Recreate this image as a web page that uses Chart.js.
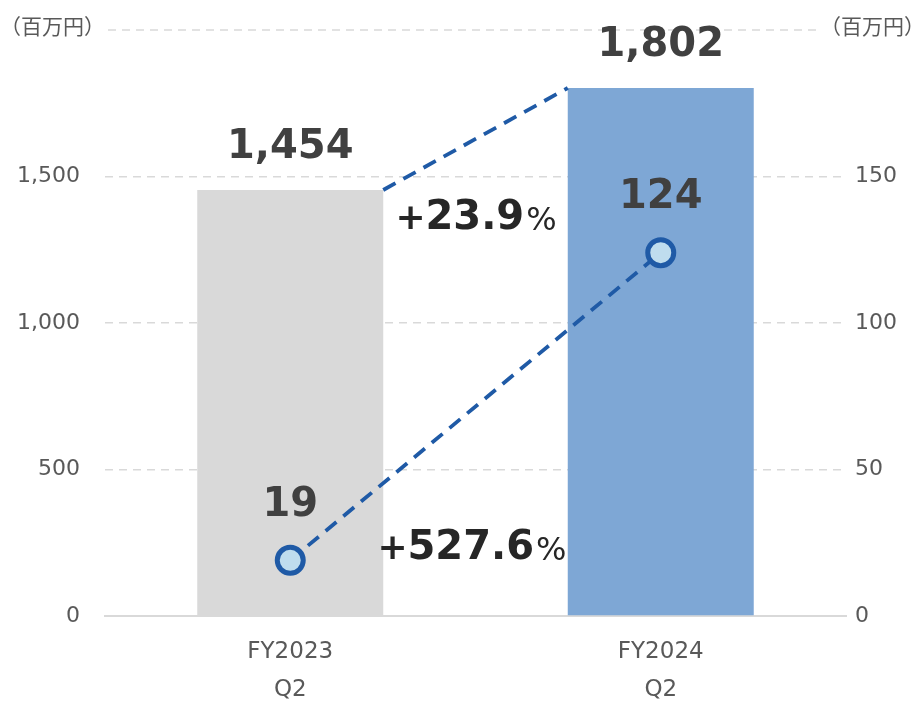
<!DOCTYPE html>
<html>
<head>
<meta charset="utf-8">
<script src="https://cdn.jsdelivr.net/npm/chart.js@4"></script>
<style>
html,body{margin:0;padding:0;background:#fff;}
#wrap{width:918px;height:704px;position:relative;}
</style>
</head>
<body>
<div id="wrap"><canvas id="c" width="918" height="704"></canvas></div>
<script>
const categories = [["FY2023", "Q2"], ["FY2024", "Q2"]];
const salesValues = [1454, 1802];          // left axis, 百万円
const profitValues = [19, 124];            // right axis, 百万円
const salesLabels = ["1,454", "1,802"];
const profitLabels = ["19", "124"];
const growthSales = "23.9";
const growthProfit = "527.6";
const unitLabel = "（百万円）";
const leftTicks = [0, 500, 1000, 1500, 2000];
const rightTicks = [0, 50, 100, 150, 200];

const TICK_FONT = {family: "'DejaVu Sans', Verdana, sans-serif", size: 22};
const GRID = '#D9D9D9';

const overlay = {
  id: 'overlay',
  beforeDatasetsDraw(chart) {
    const ctx = chart.ctx, y = chart.scales.y, area = chart.chartArea;
    ctx.save();
    ctx.strokeStyle = GRID; ctx.lineWidth = 1.5; ctx.setLineDash([8, 6]);
    const yt = y.getPixelForValue(2000);
    ctx.beginPath(); ctx.moveTo(area.left + 3, yt); ctx.lineTo(area.right - 30, yt); ctx.stroke();
    ctx.restore();
  },
  afterDatasetsDraw(chart) {
    const ctx = chart.ctx;
    const bars = chart.getDatasetMeta(0).data;
    const pts = chart.getDatasetMeta(1).data;
    ctx.save();
    ctx.strokeStyle = '#1F5AA6'; ctx.lineWidth = 3.8; ctx.setLineDash([14, 9]);
    ctx.beginPath();
    ctx.moveTo(bars[0].x + bars[0].width / 2, bars[0].y);
    ctx.lineTo(bars[1].x - bars[1].width / 2, bars[1].y);
    ctx.stroke();
    ctx.setLineDash([]);
    ctx.fillStyle = '#404040';
    ctx.textAlign = 'center'; ctx.textBaseline = 'middle';
    ctx.font = "bold 40px 'DejaVu Sans', Verdana, sans-serif";
    bars.forEach((b, i) => ctx.fillText(salesLabels[i], b.x, b.y - 42));
    pts.forEach((p, i) => ctx.fillText(profitLabels[i], p.x, p.y - 55));
    const drawGrowth = (txt, xLeft, yMid) => {
      ctx.textAlign = 'left'; ctx.fillStyle = '#262626';
      let x = xLeft;
      ctx.font = "bold 36px 'DejaVu Sans', Verdana, sans-serif";
      ctx.fillText('+', x - 4, yMid + 1); x += 26;
      ctx.font = "bold 40px 'DejaVu Sans', Verdana, sans-serif";
      ctx.fillText(txt, x, yMid); x += ctx.measureText(txt).width + 2;
      ctx.font = "32px 'DejaVu Sans', Verdana, sans-serif";
      ctx.fillText('%', x, yMid + 3);
    };
    const midX = (bars[0].x + bars[1].x) / 2;
    drawGrowth(growthSales, midX - 76, 219);
    drawGrowth(growthProfit, midX - 94, 549);
    ctx.fillStyle = '#595959';
    ctx.font = "21px 'Noto Sans CJK JP', sans-serif";
    const yt = chart.scales.y.getPixelForValue(2000);
    ctx.textAlign = 'left'; ctx.fillText(unitLabel, 0, yt - 4);
    ctx.textAlign = 'right'; ctx.fillText(unitLabel, 925, yt - 4);
    ctx.restore();
  }
};

new Chart(document.getElementById('c'), {
  data: {
    labels: categories,
    datasets: [
      {
        type: 'bar', data: salesValues, yAxisID: 'y', order: 2,
        backgroundColor: ['#D9D9D9', '#7EA7D5'],
        barPercentage: 1, categoryPercentage: 0.502
      },
      {
        type: 'line', data: profitValues, yAxisID: 'y1', order: 1,
        borderColor: '#1F5AA6', borderWidth: 3.8, borderDash: [14, 9],
        pointRadius: 13, pointBorderWidth: 5,
        pointBackgroundColor: '#BFDDEE', pointBorderColor: '#1F5AA6',
        fill: false, tension: 0
      }
    ]
  },
  options: {
    responsive: false, animation: false,
    layout: {padding: {top: 30, left: 0, right: 0, bottom: 0}},
    plugins: {legend: {display: false}, tooltip: {enabled: false}},
    scales: {
      x: {
        grid: {display: false, drawTicks: false},
        border: {display: true, color: GRID, width: 2},
        ticks: {font: Object.assign({lineHeight: 1.65}, TICK_FONT, {size: 23}), color: '#595959', padding: 17, maxRotation: 0},
        afterFit(s) { s.height = 88; }
      },
      y: {
        position: 'left', min: 0, max: 2000,
        afterBuildTicks(s) { s.ticks = leftTicks.map(v => ({value: v})); },
        grid: {
          drawTicks: false, lineWidth: 1.5,
          color: c => (c.tick && c.tick.value === 2000) ? 'rgba(0,0,0,0)' : GRID
        },
        border: {display: false, dash: [8, 6]},
        ticks: {
          font: TICK_FONT, color: '#595959', padding: 25,
          callback: v => v === 2000 ? '' : v.toLocaleString('en-US')
        },
        afterFit(s) { s.width = 105; s.paddingTop = 0; s.paddingBottom = 0; }
      },
      y1: {
        position: 'right', min: 0, max: 200,
        afterBuildTicks(s) { s.ticks = rightTicks.map(v => ({value: v})); },
        grid: {display: false, drawTicks: false},
        border: {display: false},
        ticks: {
          font: TICK_FONT, color: '#595959', padding: 9,
          callback: v => v === 200 ? '' : String(v)
        },
        afterFit(s) { s.width = 72; s.paddingTop = 0; s.paddingBottom = 0; }
      }
    }
  },
  plugins: [overlay]
});
</script>
</body>
</html>
